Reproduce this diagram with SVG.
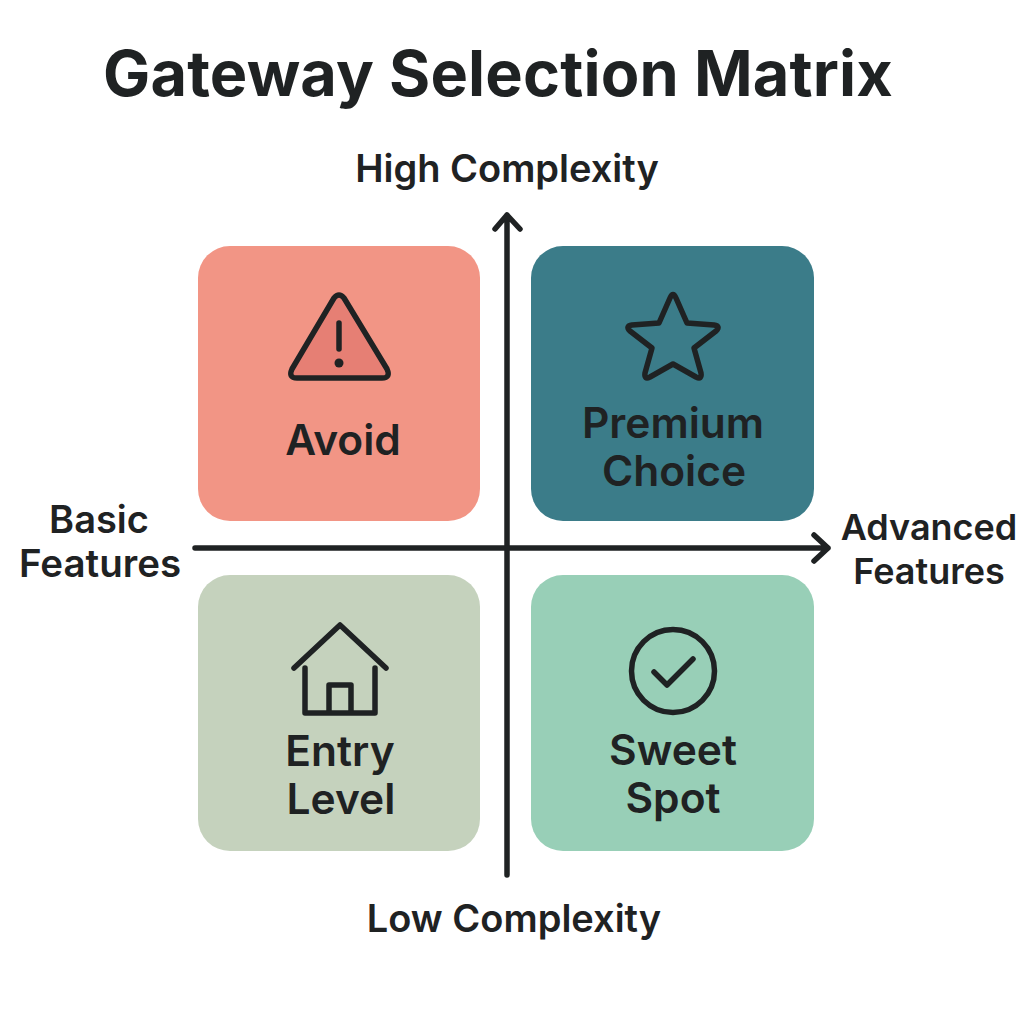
<svg xmlns="http://www.w3.org/2000/svg" width="1024" height="1024" viewBox="0 0 1024 1024">
<style>
text{font-family:"Inter","Noto Sans",sans-serif;fill:#1f2223;text-anchor:middle;font-weight:600}
.t{font-size:42.5px}
.a{font-size:38px}
.ar{font-size:36px}
.ic{fill:none;stroke:#1f2223;stroke-width:5.5;stroke-linejoin:round;stroke-linecap:round}
.ax{fill:none;stroke:#1f2223;stroke-width:5.5;stroke-linecap:round;stroke-linejoin:round}
</style>
<rect width="1024" height="1024" fill="#fff"/>
<text id="title" x="498" y="96" style="font-size:63px;font-weight:700;letter-spacing:0.15px">Gateway Selection Matrix</text>
<g id="avoid"><rect x="198" y="246" width="282" height="275" rx="32" fill="#f29585"/>
<path d="M334 298Q339 292 344 298L387 369Q391 378 382 378L297 378Q288 378 292 369Z" class="ic" style="fill:#e67f74"/>
<path d="M339 323V349" class="ic"/><circle cx="339" cy="363" r="4.5" fill="#1f2223"/>
<text class="t" x="343" y="455">Avoid</text></g>
<g id="premium"><rect x="531" y="246" width="283" height="275" rx="32" fill="#3b7c89"/>
<path d="M670 298Q673 291 676 298L687 323L714 325Q721 326 716 331L694 348L701 373Q702 380 696 377L673 364L650 377Q644 380 645 373L652 348L630 331Q625 326 632 325L659 323Z" class="ic"/>
<text class="t" x="673" y="438">Premium</text><text class="t" x="674" y="486">Choice</text></g>
<g id="entry"><rect x="198" y="575" width="282" height="276" rx="32" fill="#c5d2bd"/>
<path d="M294 668L340 625L386 668M305 668V713H375V668M329 713V685H351V713" class="ic"/>
<text class="t" x="340" y="766">Entry</text><text class="t" x="341" y="814">Level</text></g>
<g id="sweet"><rect x="531" y="575" width="283" height="276" rx="32" fill="#98cfb7"/>
<circle cx="673" cy="671" r="41.5" class="ic"/><path d="M654 672L667 685L693 659" class="ic"/>
<text class="t" x="673" y="765">Sweet</text><text class="t" x="673" y="813">Spot</text></g>
<g id="connectors">
<path class="ax" d="M507 875V215M495 229L507 215L520 229"/>
<path class="ax" d="M195 548H828M814 535L828 548L814 561"/>
</g>
<g id="axis-labels">
<text class="a" x="507" y="182">High Complexity</text>
<text class="a" x="514" y="932">Low Complexity</text>
<text class="a" x="99" y="533">Basic</text><text class="a" x="100" y="577" style="font-size:38.5px">Features</text>
<text class="ar" x="929" y="540">Advanced</text><text class="ar" x="929" y="584">Features</text>
</g>
</svg>
